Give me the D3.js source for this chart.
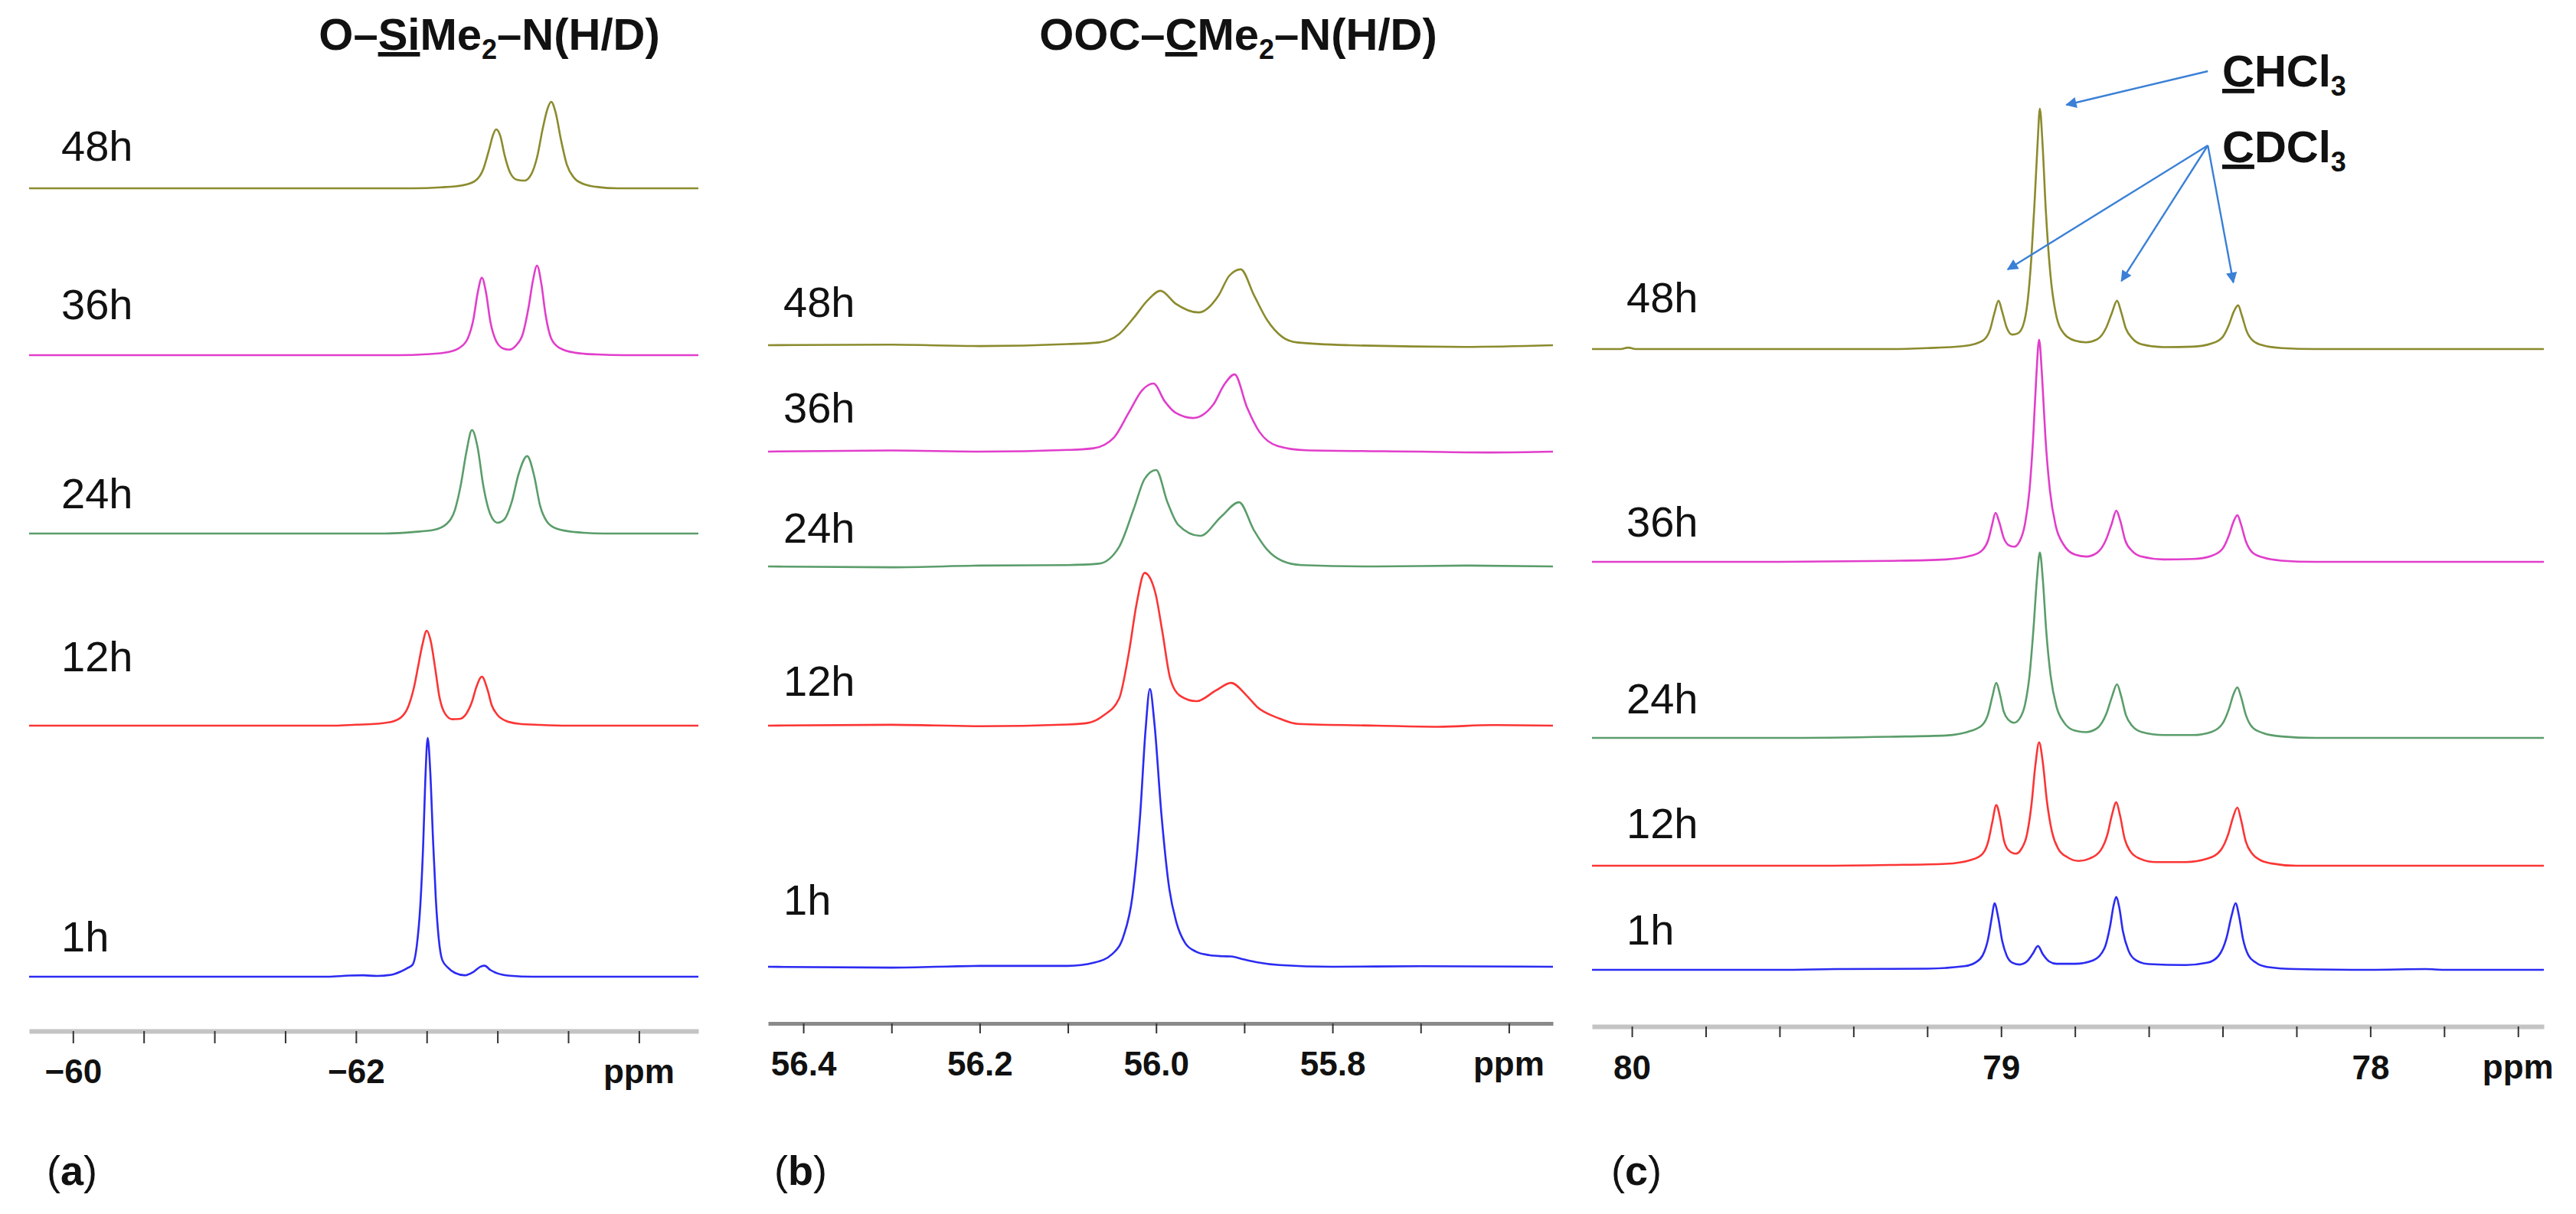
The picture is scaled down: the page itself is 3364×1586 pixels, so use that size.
<!DOCTYPE html>
<html>
<head>
<meta charset="utf-8">
<title>H/D exchange NMR spectra</title>
<script src="https://d3js.org/d3.v7.min.js"></script>
<style>
  body { margin: 0; background: #fff; }
  text { font-family: "Liberation Sans", Arial, sans-serif; fill: #111; }
</style>
</head>
<body>
<div id="chart"></div>
<script>
// spectra are listed 1h, 12h, 24h, 36h, 48h; points are [ppm, intensity]
const hours = ["1h", "12h", "24h", "36h", "48h"];
const colors = ["#2b2bf2", "#fb3535", "#5b9d6b", "#e13ecb", "#8b8b2e"];

// (a) O-SiMe2-N(H/D)
const a1h = [[-59.69,0],[-61.8,0],[-61.95,0.5],[-62.05,0.6],[-62.15,0.3],[-62.25,0.8],[-62.31,2],[-62.36,3.5],
  [-62.4,5],[-62.43,13],[-62.455,30],[-62.475,55],[-62.49,82],[-62.507,100],[-62.525,86],[-62.545,57],
  [-62.565,32],[-62.585,16],[-62.61,7],[-62.65,3.8],[-62.7,1.6],[-62.77,0.6],[-62.83,2],[-62.88,4.2],
  [-62.91,4.6],[-62.95,2.8],[-63.0,1.4],[-63.09,0.4],[-63.25,0],[-64.42,0]];
const a12h = [[-59.69,0],[-61.85,0],[-62.0,0.4],[-62.15,0.8],[-62.25,1.6],[-62.32,3.5],[-62.37,8],[-62.41,16],
  [-62.44,25],[-62.47,34],[-62.5,39.7],[-62.53,35],[-62.56,24],[-62.59,12],[-62.63,5],[-62.68,2.7],
  [-62.73,2.8],[-62.78,5],[-62.82,10],[-62.85,16],[-62.89,20.5],[-62.93,15],[-62.96,8.5],[-63.0,4.5],
  [-63.06,2],[-63.15,0.8],[-63.3,0.3],[-63.5,0],[-64.42,0]];
const a24h = [[-59.69,0],[-62.2,0],[-62.4,0.6],[-62.55,1.5],[-62.64,4],[-62.7,10],[-62.74,20],[-62.78,34],
  [-62.82,43.3],[-62.86,36],[-62.9,20],[-62.95,8],[-63.0,4.5],[-63.05,6],[-63.1,13],[-63.15,25],
  [-63.21,32.4],[-63.26,24],[-63.3,12],[-63.35,5],[-63.42,2],[-63.55,0.6],[-63.75,0],[-64.42,0]];
const a36h = [[-59.69,0],[-62.3,0],[-62.5,0.4],[-62.65,1.3],[-62.73,3],[-62.79,7],[-62.83,15],[-62.86,26],
  [-62.89,32.4],[-62.92,26],[-62.95,14],[-62.99,6],[-63.04,2.8],[-63.08,2.3],[-63.13,4],[-63.18,9],
  [-63.22,20],[-63.25,31],[-63.28,37.5],[-63.31,30],[-63.34,17],[-63.38,7],[-63.44,3],[-63.55,1],
  [-63.7,0.3],[-63.9,0],[-64.42,0]];
const a48h = [[-59.69,0],[-62.4,0],[-62.6,0.4],[-62.75,1.2],[-62.84,3],[-62.9,8],[-62.94,16],[-62.97,22.5],
  [-62.99,24.7],[-63.02,22],[-63.05,14],[-63.09,6.5],[-63.14,3.5],[-63.19,3.2],[-63.24,6],[-63.28,13],
  [-63.32,25],[-63.355,33.5],[-63.38,36.2],[-63.41,32],[-63.45,20],[-63.49,10],[-63.54,4.5],[-63.6,2],
  [-63.7,0.6],[-63.85,0],[-64.42,0]];

// (b) OOC-CMe2-N(H/D)
const b1h = [[56.44,0],[56.3,-0.3],[56.2,0.3],[56.1,0.3],[56.07,1.5],[56.05,4.5],[56.037,11],[56.027,25],
  [56.018,55],[56.012,85],[56.007,100],[56.002,88],[55.994,55],[55.985,28],[55.977,16],[55.967,8.5],
  [55.955,5.5],[55.94,4.2],[55.925,3.8],[55.915,3.7],[55.9,2.6],[55.885,1.6],[55.86,0.6],[55.8,0],
  [55.7,0.2],[55.55,0]];
const b12h = [[56.44,0],[56.3,0.3],[56.2,-0.2],[56.1,0.4],[56.077,1],[56.06,3.6],[56.042,9.7],[56.031,26],
  [56.022,44],[56.013,55],[56.001,48],[55.993,34],[55.984,17],[55.973,10.8],[55.954,8.8],[55.932,12.7],
  [55.915,15.4],[55.897,10.7],[55.885,6.6],[55.862,2.8],[55.839,0.6],[55.75,0],[55.68,-0.4],[55.62,0.2],
  [55.55,0]];
const b24h = [[56.44,0],[56.3,-0.3],[56.2,0.3],[56.1,0.5],[56.065,1],[56.042,7],[56.025,21],[56.013,31.5],
  [56.0,34.7],[55.987,23],[55.975,15],[55.95,11],[55.926,18],[55.906,23.1],[55.889,13],[55.874,6],
  [55.857,2],[55.835,0.5],[55.75,0],[55.65,0.3],[55.55,0]];
const b36h = [[56.44,0],[56.3,0.4],[56.2,0],[56.1,0.6],[56.071,1.2],[56.048,5],[56.031,14],[56.016,22],
  [56.003,24.5],[55.99,18],[55.978,14],[55.958,12.1],[55.935,17],[55.923,24],[55.911,27.8],[55.897,16],
  [55.883,7.2],[55.862,2],[55.83,0.5],[55.7,0],[55.62,-0.3],[55.55,0]];
const b48h = [[56.44,0],[56.3,0.2],[56.2,-0.3],[56.1,0.4],[56.065,1],[56.042,4],[56.025,10],[56.01,16],
  [55.995,19.6],[55.978,15],[55.952,11.8],[55.929,18],[55.917,25],[55.904,27.3],[55.889,18],[55.874,9],
  [55.857,3],[55.84,1],[55.78,0],[55.65,-0.6],[55.55,0]];

// (c) CHCl3 / CDCl3 region
const c1h = [[80.108,0],[79.6,0],[79.45,0.3],[79.2,0.5],[79.1,1.5],[79.07,3],[79.05,6],[79.035,13],
  [79.025,22],[79.018,27.7],[79.008,22],[78.997,12],[78.985,6],[78.97,3],[78.95,2.2],[78.93,3.5],
  [78.915,6.5],[78.9,9.9],[78.887,6.5],[78.87,3.5],[78.85,2.5],[78.8,2.5],[78.75,4],[78.72,9],
  [78.705,18],[78.695,27],[78.688,30.3],[78.68,26],[78.67,16],[78.655,8],[78.635,4],[78.6,2.4],
  [78.5,2],[78.44,3],[78.41,6],[78.39,13],[78.375,23],[78.365,27.7],[78.355,22],[78.345,13],
  [78.33,6],[78.31,3],[78.28,1.2],[78.2,0.3],[78.0,0],[77.85,0.3],[77.8,0],[77.53,0]];
const c12h = [[80.108,0],[79.5,0],[79.3,0.3],[79.15,0.8],[79.08,2.5],[79.05,5],[79.035,10],[79.024,18],
  [79.013,25.2],[79.003,20],[78.993,11],[78.98,6.5],[78.96,5],[78.945,7],[78.93,13],[78.918,25],
  [78.907,42],[78.897,51.3],[78.887,43],[78.876,27],[78.862,14],[78.845,7],[78.82,3.5],[78.79,2],
  [78.76,3],[78.73,6.5],[78.712,13],[78.7,21],[78.688,26.4],[78.678,21],[78.665,11],[78.65,6],
  [78.625,3],[78.58,1.5],[78.5,1.5],[78.44,3],[78.405,6.5],[78.385,13],[78.372,20],[78.36,24.2],
  [78.35,19],[78.337,10],[78.32,5],[78.3,2.5],[78.27,1],[78.2,0],[77.53,0]];
const c24h = [[80.108,0],[79.6,0],[79.3,0.5],[79.15,1],[79.08,3],[79.05,5.5],[79.035,10],[79.024,17],
  [79.013,22.9],[79.003,18],[78.993,11],[78.98,7.5],[78.965,6.3],[78.95,8],[78.935,14],[78.923,26],
  [78.912,46],[78.903,66],[78.895,77.1],[78.887,66],[78.878,45],[78.866,26],[78.85,13],[78.83,6.5],
  [78.8,3],[78.77,2.4],[78.74,4],[78.715,10],[78.7,17],[78.686,22.3],[78.675,17.5],[78.662,9.5],
  [78.645,5],[78.62,2.5],[78.56,1.2],[78.48,1.2],[78.43,2.5],[78.4,6],[78.383,12],[78.371,18],
  [78.36,21],[78.35,17],[78.337,9.5],[78.32,4.5],[78.29,2],[78.24,0.6],[78.15,0],[77.53,0]];
const c36h = [[80.108,0],[79.6,0],[79.3,0.4],[79.15,1],[79.08,2.6],[79.05,5],[79.035,9],[79.025,15],
  [79.015,20.4],[79.005,16.5],[78.993,10],[78.98,7],[78.965,6.3],[78.95,8.5],[78.935,16],[78.923,30],
  [78.913,52],[78.905,76],[78.897,92.4],[78.889,77],[78.88,52],[78.868,30],[78.852,15],[78.83,7],
  [78.8,3],[78.77,2.2],[78.74,3.8],[78.715,9.5],[78.7,16],[78.688,21.3],[78.677,17],[78.664,9],
  [78.645,4.5],[78.62,2.2],[78.56,1],[78.48,1.2],[78.43,2.5],[78.4,5.5],[78.383,11],[78.371,16.5],
  [78.36,19.4],[78.35,15.5],[78.337,8.5],[78.32,4],[78.29,1.8],[78.24,0.5],[78.15,0],[77.53,0]];
const c48h = [[80.108,0],[80.03,0],[80.01,0.6],[79.99,0],[79.3,0],[79.2,0.4],[79.1,1.3],[79.05,3.5],
  [79.03,8],[79.018,15],[79.007,20.1],[78.997,15.5],[78.985,9],[78.97,6],[78.955,6.5],[78.94,10],
  [78.928,20],[78.918,38],[78.909,62],[78.901,86],[78.895,100],[78.888,86],[78.879,58],[78.867,32],
  [78.852,15],[78.83,6.5],[78.8,3.5],[78.77,2.8],[78.74,4],[78.715,9],[78.7,15],[78.686,20.1],
  [78.675,15.5],[78.662,8.5],[78.645,4.5],[78.62,2],[78.56,0.8],[78.48,1],[78.43,2.3],[78.4,5],
  [78.383,10],[78.37,15.5],[78.358,18.2],[78.348,14],[78.335,7.5],[78.318,3.5],[78.29,1.5],
  [78.24,0.4],[78.15,0],[77.53,0]];

// axis ticks and labels
const ticksA = d3.range(-60, -64.001, -0.5), labelsA = [-60, -62];
const ticksB = d3.range(56.4, 55.599, -0.1), labelsB = [56.4, 56.2, 56.0, 55.8];
const ticksC = d3.range(80, 77.599, -0.2), labelsC = [80, 79, 78];

const width = 3364, height = 1586;

const panels = [
  { letter: "a", spectra: [a1h, a12h, a24h, a36h, a48h], domain: [-59.69, -64.42], range: [38, 912],
    ticks: ticksA, labels: labelsA, ppmAt: -64, fmt: d3.format("d"), axisY: 1347, tickLen: 16,
    axisColor: "#c4c4c4", axisWidth: 6, peakPx: 312,
    base: [1276, 948, 697, 464, 246], labelY: [1243, 877, 664, 417, 210], labelX: 80, letterX: 61 },
  { letter: "b", spectra: [b1h, b12h, b24h, b36h, b48h], domain: [56.44, 55.55], range: [1003, 2028],
    ticks: ticksB, labels: labelsB, ppmAt: 55.6, fmt: d3.format(".1f"), axisY: 1337, tickLen: 13,
    axisColor: "#8a8a8a", axisWidth: 5, peakPx: 363,
    base: [1263, 948, 740, 590, 451], labelY: [1195, 909, 709, 552, 414], labelX: 1023, letterX: 1011 },
  { letter: "c", spectra: [c1h, c12h, c24h, c36h, c48h], domain: [80.108, 77.53], range: [2079, 3322],
    ticks: ticksC, labels: labelsC, ppmAt: 77.6, fmt: d3.format("d"), axisY: 1341, tickLen: 14,
    axisColor: "#c4c4c4", axisWidth: 6, peakPx: 314,
    base: [1267, 1131, 964, 734, 456], labelY: [1234, 1095, 932, 701, 408], labelX: 2124, letterX: 2104 }
];

const svg = d3.select("#chart").append("svg")
    .attr("width", width)
    .attr("height", height)
    .style("background", "#fff");

const defs = svg.append("defs");
defs.append("marker")
    .attr("id", "arrow")
    .attr("viewBox", "0 0 10 10")
    .attr("refX", 9).attr("refY", 5)
    .attr("markerWidth", 7).attr("markerHeight", 6)
    .attr("markerUnits", "strokeWidth")
    .attr("orient", "auto")
  .append("path")
    .attr("d", "M0,0L10,5L0,10z")
    .attr("fill", "#3a80d6");

const near = (v, list) => list.some(l => Math.abs(l - v) < 1e-6);

panels.forEach(p => {
  const x = d3.scaleLinear().domain(p.domain).range(p.range);
  const y = d3.scaleLinear().domain([0, 100]).range([0, -p.peakPx]);

  const line = d3.line()
      .x(d => x(d[0]))
      .y(d => y(d[1]))
      .curve(d3.curveMonotoneX);

  const g = svg.append("g");

  p.spectra.forEach((s, i) => {
    g.append("path")
        .datum(s)
        .attr("transform", "translate(0," + p.base[i] + ")")
        .attr("fill", "none")
        .attr("stroke", colors[i])
        .attr("stroke-width", 2.6)
        .attr("stroke-linejoin", "round")
        .attr("d", line);

    g.append("text")
        .attr("x", p.labelX)
        .attr("y", p.labelY[i])
        .attr("font-size", 56)
        .text(hours[i]);
  });

  const axis = g.append("g")
      .attr("transform", "translate(0," + p.axisY + ")")
      .call(d3.axisBottom(x)
        .tickValues(p.ticks)
        .tickSize(p.tickLen)
        .tickSizeOuter(0)
        .tickPadding(p.tickLen === 16 ? 21 : 24)
        .tickFormat(d => near(d, p.labels) ? p.fmt(d) : ""));

  axis.select(".domain")
      .attr("stroke", p.axisColor)
      .attr("stroke-width", p.axisWidth);
  axis.selectAll(".tick line")
      .attr("stroke", "#333")
      .attr("stroke-width", 2);
  axis.selectAll(".tick text")
      .attr("font-size", 44)
      .attr("font-weight", "bold")
      .attr("font-family", "'Liberation Sans', Arial, sans-serif")
      .attr("fill", "#111");

  g.append("text")
      .attr("x", x(p.ppmAt))
      .attr("y", p.axisY + 68)
      .attr("text-anchor", "middle")
      .attr("font-size", 44)
      .attr("font-weight", "bold")
      .text("ppm");

  const lt = g.append("text")
      .attr("x", p.letterX)
      .attr("y", 1548)
      .attr("font-size", 54);
  lt.append("tspan").text("(");
  lt.append("tspan").attr("font-weight", "bold").text(p.letter);
  lt.append("tspan").text(")");

  p.x = x;
});

// panel titles
function formula(parent, cx, cy, parts) {
  const t = parent.append("text")
      .attr("x", cx).attr("y", cy)
      .attr("text-anchor", "middle")
      .attr("font-size", 58)
      .attr("font-weight", "bold");
  parts.forEach(([str, kind]) => {
    const ts = t.append("tspan").text(str);
    if (kind === "u") ts.style("text-decoration", "underline");
    if (kind === "sub") ts.attr("font-size", 36).attr("dy", 12);
    if (kind === "after") ts.attr("dy", -12);
  });
  return t;
}

formula(svg, 639, 65, [["O–"], ["Si", "u"], ["Me"], ["2", "sub"], ["–N(H/D)", "after"]]);
formula(svg, 1617, 65, [["OOC–"], ["C", "u"], ["Me"], ["2", "sub"], ["–N(H/D)", "after"]]);

// solvent annotations in panel (c)
const xc = panels[2].x;
const notes = [
  { parts: [["C", "u"], ["HCl"], ["3", "sub"]], y: 113, from: [78.44, 93], to: [[78.823, 137]] },
  { parts: [["C", "u"], ["DCl"], ["3", "sub"]], y: 212, from: [78.44, 190],
    to: [[78.982, 352], [78.674, 367], [78.371, 369]] }
];

notes.forEach(n => {
  const t = formula(svg, 2902, n.y, n.parts).attr("text-anchor", "start");
  n.to.forEach(tp => {
    svg.append("line")
        .attr("x1", xc(n.from[0])).attr("y1", n.from[1])
        .attr("x2", xc(tp[0])).attr("y2", tp[1])
        .attr("stroke", "#3a80d6")
        .attr("stroke-width", 2.4)
        .attr("marker-end", "url(#arrow)");
  });
});
</script>
</body>
</html>
